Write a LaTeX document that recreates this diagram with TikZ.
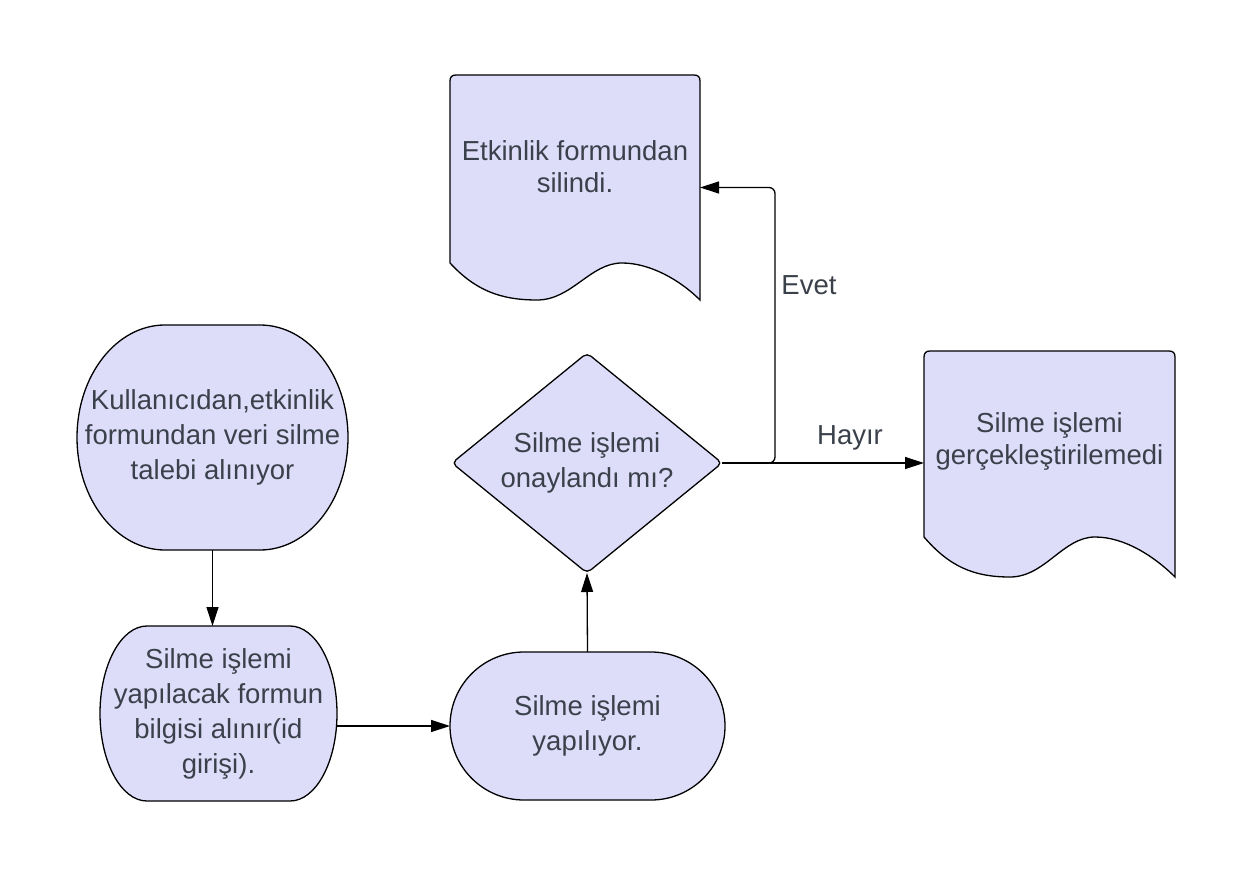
\documentclass[tikz,border=0pt]{standalone}
\usepackage{fontspec}
\setmainfont{Liberation Sans}
\usetikzlibrary{arrows.meta,calc}
\definecolor{shapefill}{RGB}{221,221,250}
\definecolor{textc}{RGB}{59,65,75}
\tikzset{
  shapeline/.style={draw=black, line width=1.3pt, fill=shapefill},
  anchorbox/.style={draw=none, inner sep=0pt, outer sep=0pt},
  roundtext/.style={text=textc, align=center, inner sep=0pt, outer sep=0pt, font=\fontsize{27.5}{35}\selectfont},
  doctext/.style={text=textc, align=center, inner sep=0pt, font=\fontsize{27.5}{32}\selectfont},
  lbl/.style={text=textc, inner sep=0pt, font=\fontsize{27.5}{32}\selectfont},
  conn/.style={draw=black, line width=1.3pt, -{Triangle[length=19pt,width=12pt]}},
}
\begin{document}
\begin{tikzpicture}[x=1pt,y=-1pt]
\fill[white] (0,0) rectangle (1252,877);
\useasboundingbox (0,0) rectangle (1252,877);

% ---- shapes ----
% top document
\path[shapeline] (450,263) -- (450,81) .. controls (450,77) and (452,75) .. (456,75) -- (694,75) .. controls (698,75) and (700,77) .. (700,81) -- (700,300)
  .. controls (680,280) and (650,263) .. (622,263)
  .. controls (590,263) and (572,300) .. (537,300)
  .. controls (500,300) and (475,290) .. (450,263) -- cycle;
% right document
\path[shapeline] (924,537) -- (924,357) .. controls (924,353) and (926,351) .. (930,351) -- (1169,351) .. controls (1173,351) and (1175,353) .. (1175,357) -- (1175,577)
  .. controls (1155,557) and (1125,537) .. (1095,537)
  .. controls (1063,537) and (1045,577) .. (1010,577)
  .. controls (973,577) and (949,566) .. (924,537) -- cycle;
% start rounded shape
\path[shapeline] (165,325) -- (260,325) .. controls (308.6,325) and (348,375.4) .. (348,437.5)
  .. controls (348,499.6) and (308.6,550) .. (260,550) -- (165,550)
  .. controls (116.4,550) and (77,499.6) .. (77,437.5)
  .. controls (77,375.4) and (116.4,325) .. (165,325) -- cycle;
% second rounded shape
\path[shapeline] (147,626) -- (290,626) .. controls (316,626) and (337,665.2) .. (337,713.5)
  .. controls (337,761.8) and (316,801) .. (290,801) -- (147,801)
  .. controls (121,801) and (100,761.8) .. (100,713.5)
  .. controls (100,665.2) and (121,626) .. (147,626) -- cycle;
% stadium
\path[shapeline] (524,652) -- (651,652) .. controls (691.9,652) and (725,685.1) .. (725,726)
  .. controls (725,766.9) and (691.9,800) .. (651,800) -- (524,800)
  .. controls (483.1,800) and (450,766.9) .. (450,726)
  .. controls (450,685.1) and (483.1,652) .. (524,652) -- cycle;
% diamond
\path[shapeline, rounded corners=5pt] (587,353) -- (722,463) -- (587,573) -- (452,463) -- cycle;

% ---- nodes (anchors + text) ----
\node[anchorbox, minimum width=250pt, minimum height=225pt] (d1) at (575,187.5) {};
\node[doctext] (d1t) at (575,167) {Etkinlik formundan\\silindi.};
\node[anchorbox, minimum width=251pt, minimum height=226pt] (d2) at (1049.5,464) {};
\node[doctext] (d2t) at (1049.5,441) {Silme işlemi\\gerçekleştirilemedi};
\node[roundtext, minimum width=271pt, minimum height=225pt] (c1) at (212.5,437.5) {Kullanıcıdan,etkinlik\\formundan veri silme\\talebi alınıyor};
\node[roundtext, minimum width=237pt, minimum height=175pt] (c3) at (218.5,713.5) {Silme işlemi\\yapılacak formun\\bilgisi alınır(id\\girişi).};
\node[roundtext, minimum width=275pt, minimum height=148pt] (st) at (587.5,726) {Silme işlemi\\yapılıyor.};
\node[roundtext, minimum width=270pt, minimum height=220pt] (dia) at (587,463) {Silme işlemi\\onaylandı mı?};
\node[lbl] (evet) at (809,285) {Evet};
\node[lbl] (hayir) at (850,438) {Hayır};
\coordinate (split) at (775,463);

% ---- connectors ----
\draw[conn] (c1.south) -- (c1.south |- c3.north);
\draw[conn] (c3.east |- st.west) -- (st.west);
\draw[conn] (st.north) -- (dia.south);
\draw[conn] (dia.east) -- (d2.west |- dia.east);
\draw[conn, rounded corners=6pt] (dia.east) -- (split) |- (d1.east);
\end{tikzpicture}
\end{document}
